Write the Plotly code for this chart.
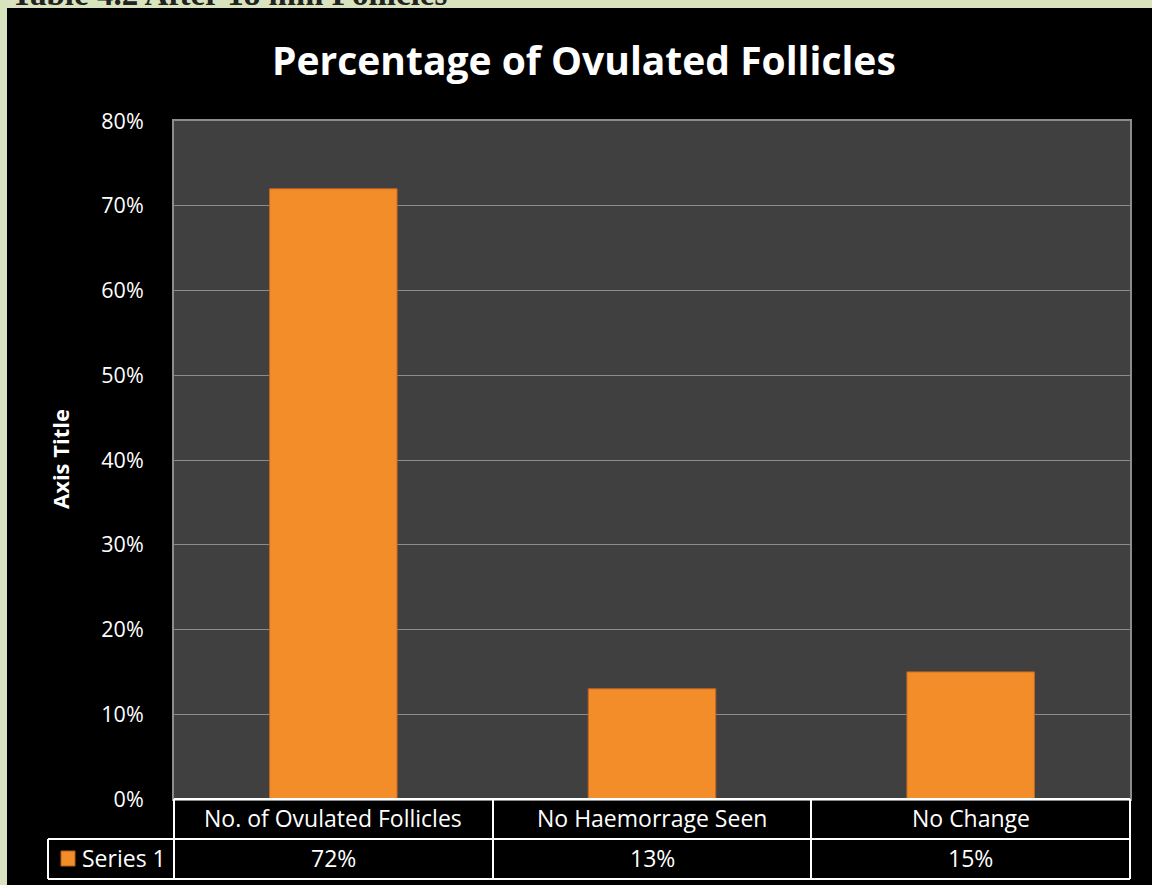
import plotly.graph_objects as go

# ---- data ----
categories = ["No. of Ovulated Follicles", "No Haemorrage Seen", "No Change"]
values = [72, 13, 15]
series_name = "Series 1"
y_ticks = [0, 10, 20, 30, 40, 50, 60, 70, 80]
title_text = "Percentage of Ovulated Follicles"
y_axis_title = "Axis Title"
caption_text = "Table 4.2 After 18 mm Follicles"

# ---- layout geometry (pixels) ----
W, H = 1152, 885
L, R, T, B = 174, 1130, 121, 799


def px(x):
    return (x - L) / (R - L)


def py(y):
    return (B - y) / (B - T)


GREEN = "#d9e4bf"
ORANGE = "#f28d2a"
WHITE = "#ffffff"
FONT = "Open Sans"

fig = go.Figure()
fig.add_trace(go.Bar(
    x=categories, y=values, name=series_name,
    marker=dict(color=ORANGE, line=dict(color="#c8671c", width=1)),
    showlegend=False, hoverinfo="skip",
))

shapes = []
# green page strips
shapes.append(dict(type="rect", xref="paper", yref="paper", x0=px(0), x1=px(W), y0=py(0), y1=py(8),
                   fillcolor=GREEN, line=dict(width=0), layer="above"))
shapes.append(dict(type="rect", xref="paper", yref="paper", x0=px(0), x1=px(7), y0=py(0), y1=py(H),
                   fillcolor=GREEN, line=dict(width=0), layer="above"))


def hline(x0, x1, y):
    shapes.append(dict(type="line", xref="paper", yref="paper", x0=px(x0), x1=px(x1), y0=py(y), y1=py(y),
                       line=dict(color=WHITE, width=2), layer="above"))


def vline(x, y0, y1):
    shapes.append(dict(type="line", xref="paper", yref="paper", x0=px(x), x1=px(x), y0=py(y0), y1=py(y1),
                       line=dict(color=WHITE, width=2), layer="above"))


hline(L, R, 799)
hline(48, R, 839)
hline(48, R, 879)
vline(48, 839, 879)
for xv in [174, 493, 811, 1130]:
    vline(xv, 799, 879)
# legend key
shapes.append(dict(type="rect", xref="paper", yref="paper", x0=px(61), x1=px(75), y0=py(851), y1=py(866),
                   fillcolor=ORANGE, line=dict(color="#b85f18", width=1), layer="above"))

annotations = []
for c, v in zip(categories, values):
    annotations.append(dict(x=c, xref="x", y=py(818), yref="paper", text=c, showarrow=False,
                            font=dict(family=FONT, size=23, color=WHITE), xanchor="center", yanchor="middle"))
    annotations.append(dict(x=c, xref="x", y=py(858), yref="paper", text=f"{v}%", showarrow=False,
                            font=dict(family=FONT, size=23, color=WHITE), xanchor="center", yanchor="middle"))
annotations.append(dict(x=px(80), xref="paper", y=py(858), yref="paper", text=series_name, showarrow=False,
                        font=dict(family=FONT, size=23, color=WHITE), xanchor="left", yanchor="middle"))
annotations.append(dict(x=px(584), xref="paper", y=py(60), yref="paper", text=f"<b>{title_text}</b>",
                        showarrow=False, font=dict(family=FONT, size=39, color=WHITE),
                        xanchor="center", yanchor="middle"))
annotations.append(dict(x=px(60), xref="paper", y=py(459), yref="paper", text=f"<b>{y_axis_title}</b>",
                        showarrow=False, textangle=-90, font=dict(family=FONT, size=22, color=WHITE),
                        xanchor="center", yanchor="middle"))
annotations.append(dict(x=px(10), xref="paper", y=py(13), yref="paper", text=f"<b>{caption_text}</b>",
                        showarrow=False, font=dict(family="Liberation Serif", size=33, color="#222222"),
                        xanchor="left", yanchor="bottom", borderpad=0))

fig.update_layout(
    width=W, height=H,
    margin=dict(l=L, r=W - R, t=T, b=H - B, pad=0),
    paper_bgcolor="#000000",
    plot_bgcolor="#404040",
    bargap=0.6,
    shapes=shapes,
    annotations=annotations,
    xaxis=dict(showticklabels=False, ticks="", showgrid=False, showline=True, linecolor="#8c8c8c",
               linewidth=2, mirror=True, zeroline=False),
    yaxis=dict(range=[0, 80], tickvals=y_ticks, ticktext=[f"{t}%" for t in y_ticks],
               showgrid=True, gridcolor="#8c8c8c", gridwidth=1, zeroline=False,
               showline=True, linecolor="#8c8c8c", linewidth=2, mirror=True,
               ticks="outside", ticklen=24, tickcolor="rgba(0,0,0,0)",
               tickfont=dict(family=FONT, size=21.5, color=WHITE)),
)

fig.write_html("out.html")
